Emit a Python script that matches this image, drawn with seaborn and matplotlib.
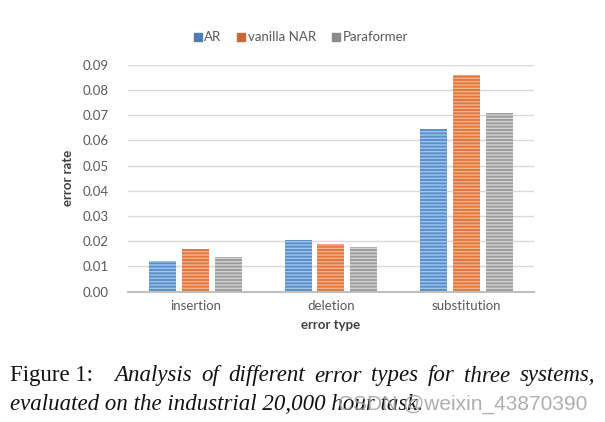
import pandas as pd
import matplotlib.pyplot as plt
import seaborn as sns
from matplotlib.lines import Line2D

error_types = ["insertion", "deletion", "substitution"]
systems = ["AR", "vanilla NAR", "Paraformer"]
ar = [0.0123, 0.0205, 0.0644]
vanilla_nar = [0.0169, 0.0189, 0.0859]
paraformer = [0.0136, 0.0176, 0.0708]

caption_head = "Figure 1:"
caption_line1 = "Analysis of different error types for three systems,"
caption_line2 = "evaluated on the industrial 20,000 hour task."
watermark = "CSDN @weixin_43870390"

df = pd.DataFrame({
    "error type": error_types * 3,
    "system": [s for s in systems for _ in error_types],
    "error rate": ar + vanilla_nar + paraformer,
})

sns.set_theme(style="white")
plt.rcParams["font.family"] = ["Lato", "DejaVu Sans"]

base = ["#5b8fc9", "#e0783f", "#9c9c9c"]
light = ["#9cc6ee", "#f7b28a", "#d4d4d4"]
legend_col = ["#4f7eb3", "#c8693a", "#8a8a8a"]

W, H = 605, 422
fig = plt.figure(figsize=(W / 100, H / 100), dpi=100)
ax = fig.add_axes([0.2116, 0.3088, 0.671, 0.5379])

sns.barplot(data=df, x="error type", y="error rate", hue="system",
            palette=base, width=0.73, gap=0.18, legend=False, ax=ax,
            linewidth=0, saturation=1)

plt.rcParams["hatch.linewidth"] = 1.2
for cont, lc in zip(ax.containers, light):
    for bar in cont:
        bar.set_hatch("-----")
        bar.set_edgecolor(lc)
        bar.set_linewidth(0)

ax.set_ylim(0, 0.09)
ax.set_yticks([i / 100 for i in range(10)])
ax.set_yticklabels([f"{i / 100:.2f}" for i in range(10)])
ax.yaxis.grid(True, color="#d9d9d9", linewidth=1)
ax.set_axisbelow(True)
for s in ["top", "right", "left"]:
    ax.spines[s].set_visible(False)
ax.spines["bottom"].set_color("#bfbfbf")
ax.spines["bottom"].set_linewidth(1.5)
ax.tick_params(axis="both", length=0, labelsize=9.5, labelcolor="#595959")
ax.tick_params(axis="y", pad=14)
ax.tick_params(axis="x", pad=6)
ax.set_xlabel("error type", fontsize=9.5, fontweight="bold", color="#404040", labelpad=5)
ax.set_ylabel("error rate", fontsize=9.5, fontweight="bold", color="#404040", labelpad=6)

handles = [Line2D([], [], marker="s", linestyle="", markersize=6,
                  markerfacecolor=c, markeredgecolor=c) for c in legend_col]
fig.legend(handles, systems, loc="center", bbox_to_anchor=(0.495, 0.912), ncol=3,
           frameon=False, fontsize=9.5, labelcolor="#595959", handletextpad=0.0,
           columnspacing=1.0, handlelength=1.0)

# caption, first line justified between x=114 and x=595 px
serif = ["Liberation Serif", "DejaVu Serif"]
cap = dict(fontsize=16.5, family=serif, color="#111111", va="baseline")
y1, y2 = 1 - 381.5 / H, 1 - 410 / H
fig.text(10 / W, y1, caption_head, **cap)

fig.canvas.draw()
r = fig.canvas.get_renderer()
words = caption_line1.split()
texts = [fig.text(0, y1, w, style="italic", **cap) for w in words]
widths = [t.get_window_extent(r).width for t in texts]
x0, x1 = 114, 595
gap = (x1 - x0 - sum(widths)) / (len(words) - 1)
x = x0
for t, w in zip(texts, widths):
    t.set_x(x / W)
    x += w + gap

fig.text(10 / W, y2, caption_line2, style="italic", **cap)
fig.text(338 / W, y2, watermark, fontsize=15, color="#a0a0a0", alpha=0.85,
         va="baseline", family=["Liberation Sans", "DejaVu Sans"])

fig.savefig("out.png", dpi=100)
